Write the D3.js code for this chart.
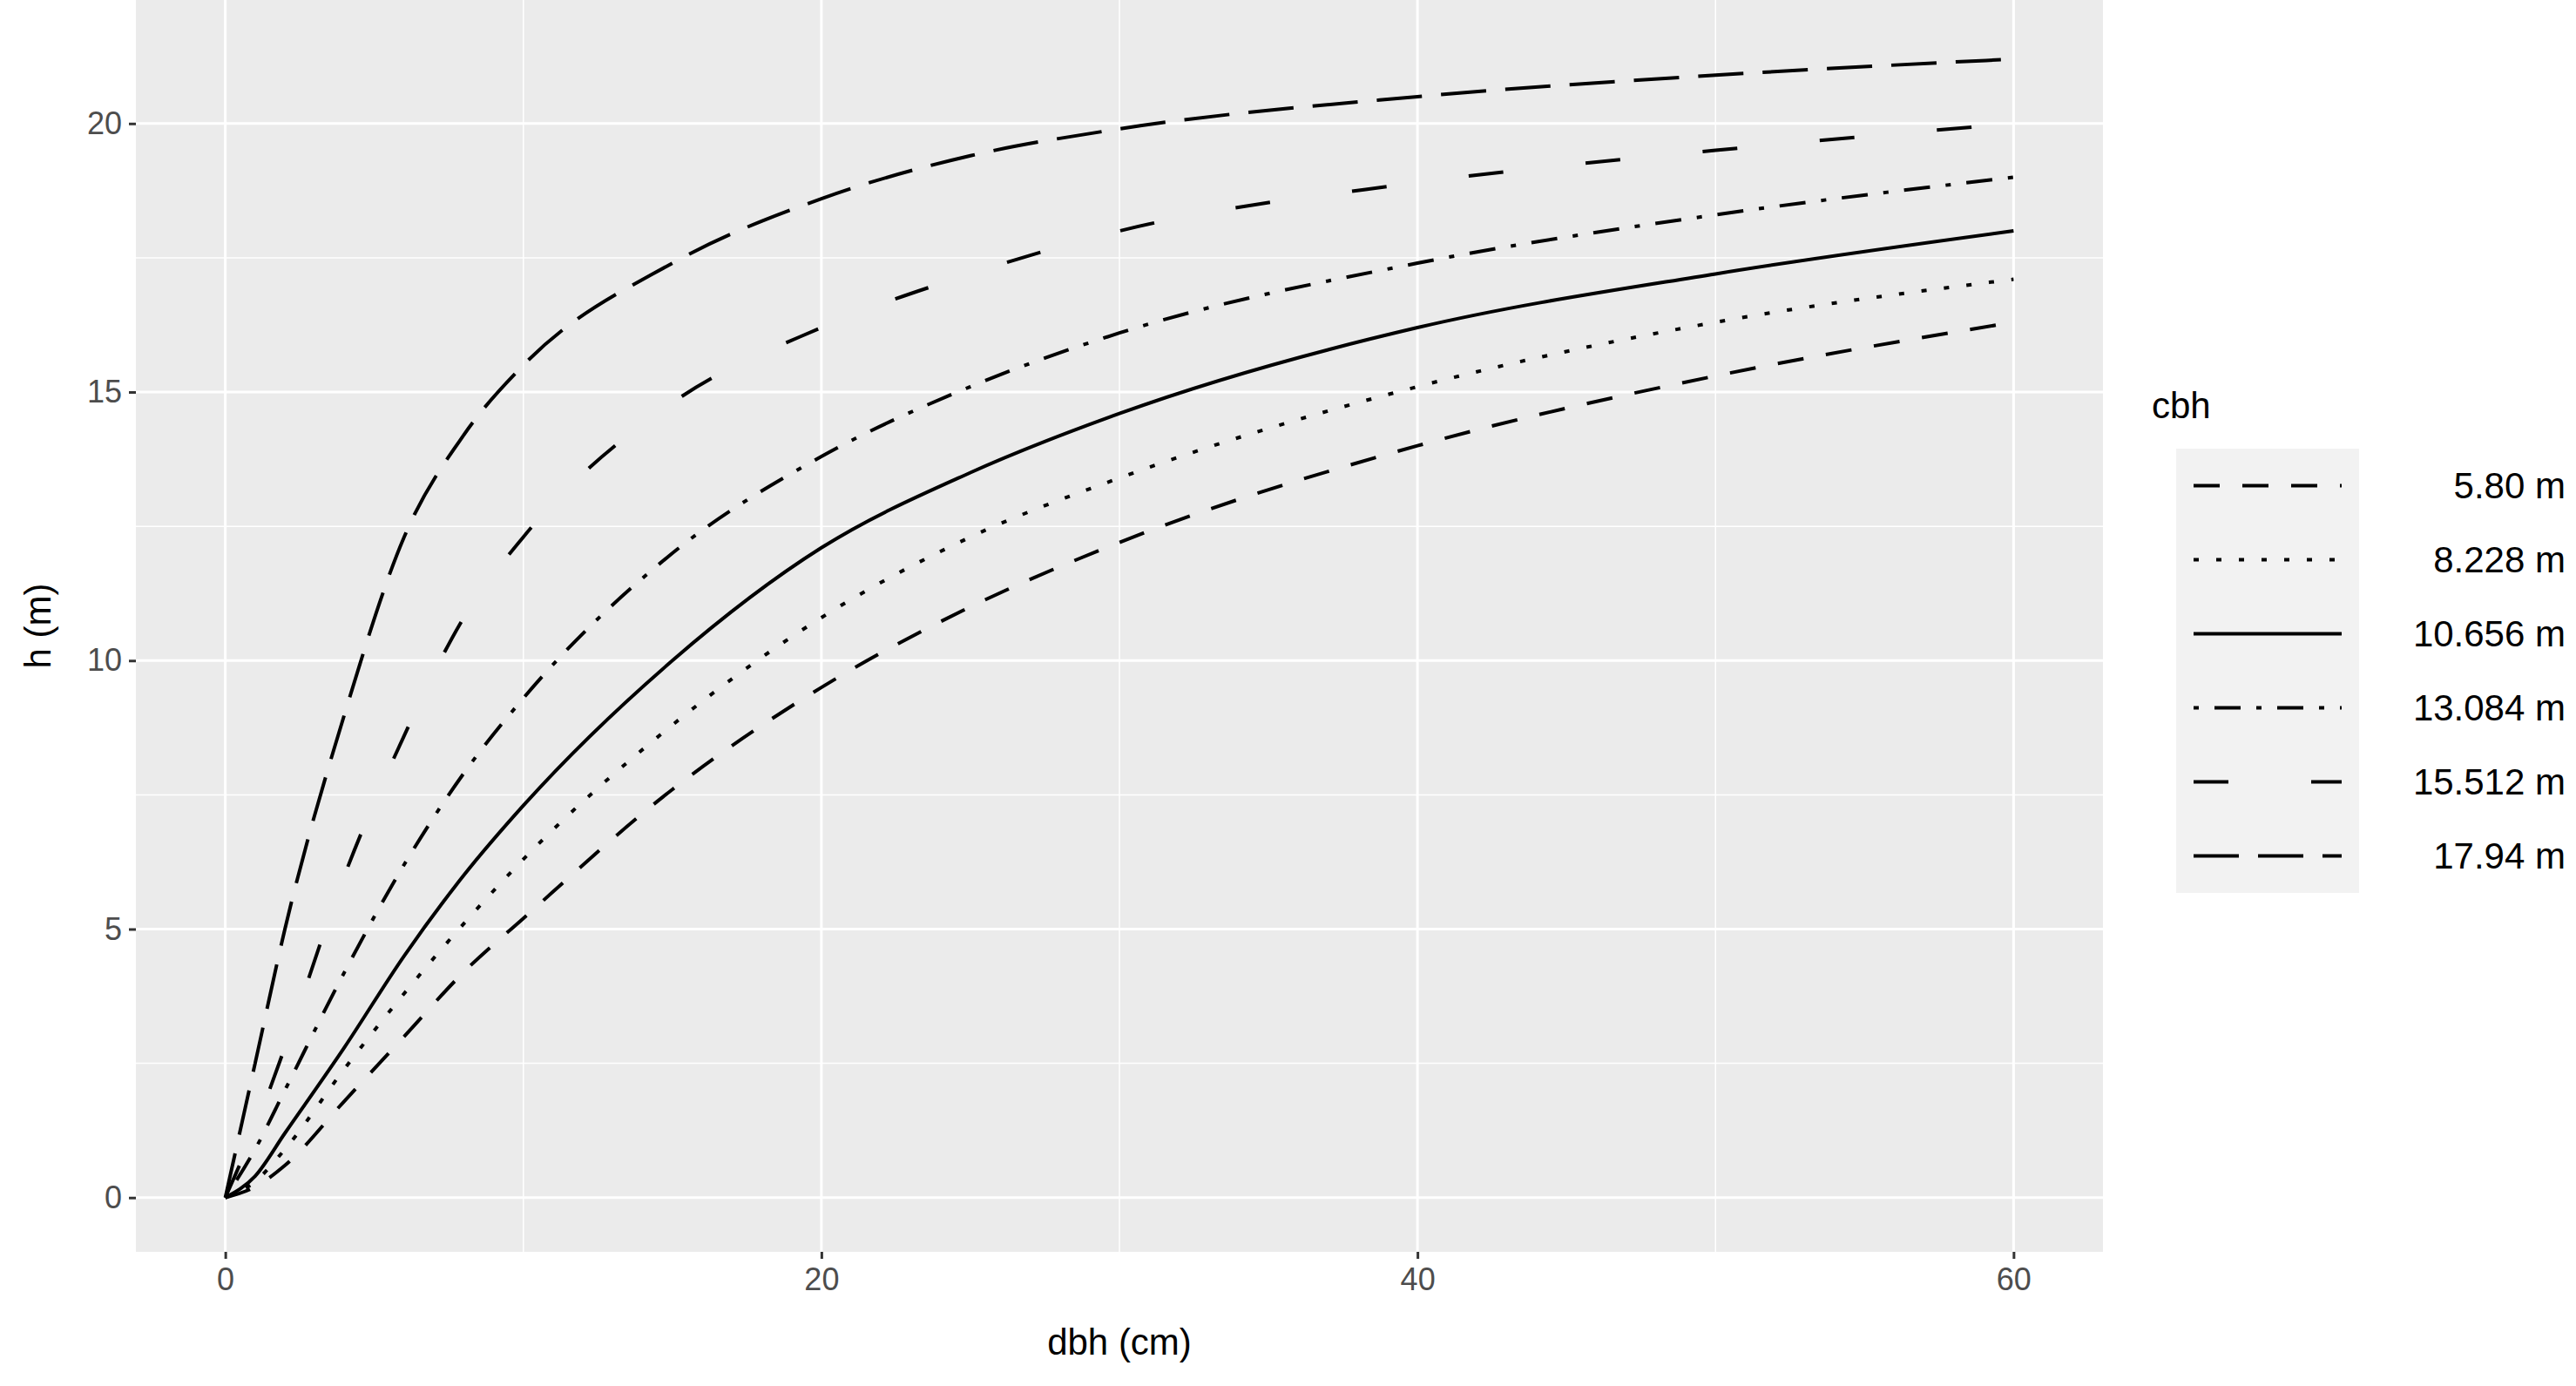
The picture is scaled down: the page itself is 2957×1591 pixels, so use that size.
<!DOCTYPE html>
<html><head><meta charset="utf-8">
<script src="https://cdnjs.cloudflare.com/ajax/libs/d3/7.8.5/d3.min.js"></script>
<style>body{margin:0;background:#fff;} text{font-family:Arial,"Liberation Sans",sans-serif;}</style>
</head><body><div class="chart"></div>
<script>
var dbh = [0, 1, 2, 4, 6, 8, 10, 15, 20, 25, 30, 40, 50, 60];
var cbhLabels = ["5.80 m", "8.228 m", "10.656 m", "13.084 m", "15.512 m", "17.94 m"];
var h580   = [0, 0.2, 0.6, 1.8, 3.0, 4.2, 5.2, 7.6, 9.5, 11.0, 12.2, 14.0, 15.3, 16.3];
var h8228  = [0, 0.3, 0.9, 2.4, 3.8, 5.1, 6.3, 8.8, 10.8, 12.3, 13.4, 15.1, 16.3, 17.1];
var h10656 = [0, 0.4, 1.2, 2.8, 4.5, 6.0, 7.3, 10.0, 12.1, 13.5, 14.6, 16.2, 17.2, 18.0];
var h13084 = [0, 0.9, 2.0, 4.2, 6.2, 7.9, 9.3, 12.0, 13.8, 15.1, 16.1, 17.4, 18.3, 19.0];
var h15512 = [0, 1.3, 2.8, 6.0, 8.6, 10.8, 12.3, 14.8, 16.2, 17.2, 18.0, 18.9, 19.5, 20.0];
var h1794  = [0, 2.5, 5.0, 9.0, 12.3, 14.2, 15.5, 17.4, 18.6, 19.4, 19.9, 20.5, 20.9, 21.2];
var xTicks = [0, 20, 40, 60];
var yTicks = [0, 5, 10, 15, 20];

var series = [h580, h8228, h10656, h13084, h15512, h1794];
var dashes = ["30,26", "6,20", null, "6,18,30,18", "40,95", "52,22"];

var W = 2957, H = 1591;
var pLeft = 156, pRight = 2414, pTop = 0, pBottom = 1437;

var x = d3.scaleLinear().domain([-3, 63]).range([pLeft, pRight]);
var y = d3.scaleLinear().domain([-1.01, 22.3]).range([pBottom, pTop]);

var svg = d3.select(".chart").append("svg").attr("width", W).attr("height", H);

svg.append("rect").attr("x", pLeft).attr("y", pTop).attr("width", pRight - pLeft).attr("height", pBottom - pTop).attr("fill", "#ebebeb");

// minor grid
[10, 30, 50].forEach(function(v){
    svg.append("line").attr("x1", x(v)).attr("x2", x(v)).attr("y1", pTop).attr("y2", pBottom).attr("stroke", "#fff").attr("stroke-width", 1.5);
});
[2.5, 7.5, 12.5, 17.5].forEach(function(v){
    svg.append("line").attr("x1", pLeft).attr("x2", pRight).attr("y1", y(v)).attr("y2", y(v)).attr("stroke", "#fff").attr("stroke-width", 1.5);
});
// major grid
xTicks.forEach(function(v){
    svg.append("line").attr("x1", x(v)).attr("x2", x(v)).attr("y1", pTop).attr("y2", pBottom).attr("stroke", "#fff").attr("stroke-width", 3);
});
yTicks.forEach(function(v){
    svg.append("line").attr("x1", pLeft).attr("x2", pRight).attr("y1", y(v)).attr("y2", y(v)).attr("stroke", "#fff").attr("stroke-width", 3);
});

var xAxis = d3.axisBottom(x).tickValues(xTicks).tickSize(8).tickPadding(10);
var yAxis = d3.axisLeft(y).tickValues(yTicks).tickSize(8).tickPadding(8);

var gx = svg.append("g").attr("transform", "translate(0," + pBottom + ")").call(xAxis);
var gy = svg.append("g").attr("transform", "translate(" + pLeft + ",0)").call(yAxis);
[gx, gy].forEach(function(g){
    g.select(".domain").remove();
    g.selectAll("line").attr("stroke", "#333").attr("stroke-width", 3);
    g.selectAll("text").attr("fill", "#4d4d4d").style("font-size", "36px").style("font-family", "Arial, 'Liberation Sans', sans-serif");
});

var line = d3.line()
    .x(function(d, i){ return x(dbh[i]); })
    .y(function(d){ return y(d); })
    .curve(d3.curveMonotoneX);

series.forEach(function(s, i){
    svg.append("path").datum(s)
        .attr("d", line)
        .attr("fill", "none")
        .attr("stroke", "#000")
        .attr("stroke-width", 4)
        .attr("stroke-dasharray", dashes[i]);
});

svg.append("text").attr("x", (pLeft + pRight) / 2).attr("y", 1555).attr("text-anchor", "middle")
    .style("font-size", "42px").attr("fill", "#000").text("dbh (cm)");
svg.append("text").attr("transform", "translate(58," + (pBottom / 2) + ") rotate(-90)").attr("text-anchor", "middle")
    .style("font-size", "42px").attr("fill", "#000").text("h (m)");

// legend
var lgX = 2498, lgY = 515, keyH = 85;
svg.append("text").attr("x", 2470).attr("y", 480).style("font-size", "42px").attr("fill", "#000").text("cbh");
svg.append("rect").attr("x", lgX).attr("y", lgY).attr("width", 210).attr("height", keyH * 6).attr("fill", "#f2f2f2");
cbhLabels.forEach(function(lab, i){
    var cy = lgY + keyH * i + keyH / 2;
    svg.append("line").attr("x1", lgX + 20).attr("x2", lgX + 190).attr("y1", cy).attr("y2", cy)
        .attr("stroke", "#000").attr("stroke-width", 4).attr("stroke-dasharray", dashes[i]);
    svg.append("text").attr("x", 2945).attr("y", cy + 14).attr("text-anchor", "end")
        .style("font-size", "42px").attr("fill", "#000").text(lab);
});
</script>
</body></html>
